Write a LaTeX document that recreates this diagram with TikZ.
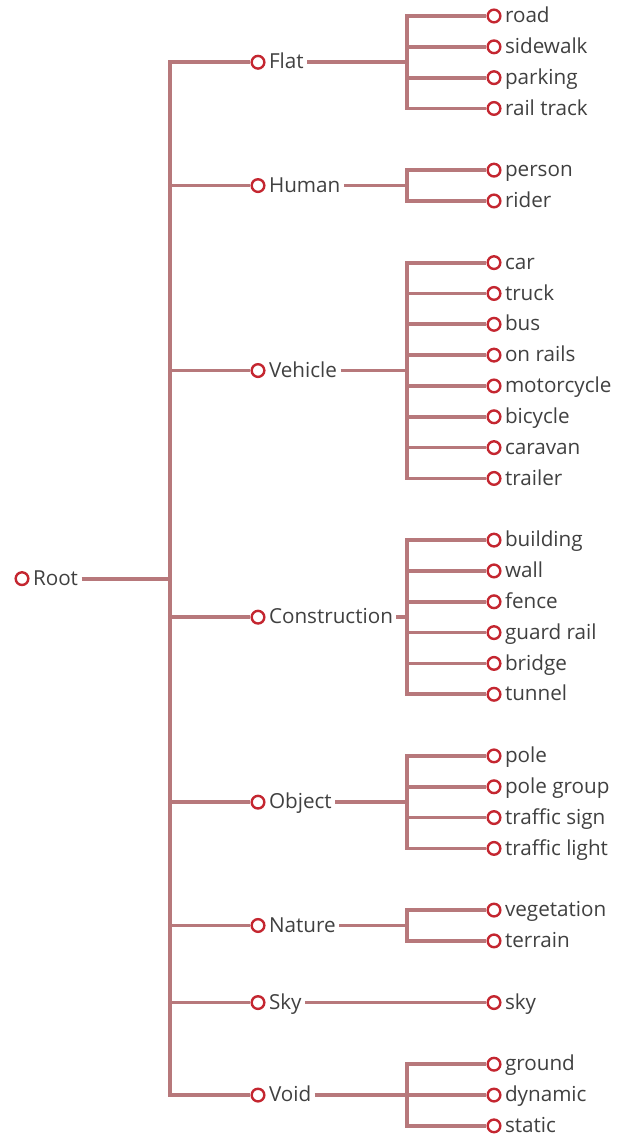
\documentclass[tikz,border=0pt]{standalone}
\usepackage{fontspec}
\setmainfont{Open Sans}
\definecolor{linkrose}{RGB}{183,120,123}
\definecolor{ringred}{RGB}{196,38,48}
\definecolor{textgray}{RGB}{64,64,64}
\tikzset{
  dot/.style={circle, draw=ringred, fill=white, line width=1.8pt, minimum size=9.5pt, inner sep=0pt},
  lbl/.style={anchor=west, inner sep=2.4pt, text height=12pt, text depth=2pt, text=textgray, font=\fontsize{15.5}{18}\selectfont},
  link/.style={draw=linkrose, line width=2.8pt},
  spine/.style={link, line cap=rect}
}
\begin{document}
\begin{tikzpicture}[x=0.75pt, y=-0.75pt]
  \useasboundingbox (0,0) rectangle (631,1138);
  \coordinate (trunk) at (170,0);
  \coordinate (split) at (407,0);
  \node[dot] (root) at (22,{16+18.25*30.83}) {};
  \node[lbl] (root-t) at (root.east) {Root};
  \draw[link] (root-t.east) -- (trunk |- root);
  \foreach \cat/\lab/\s/\nk/\kids in {flat/Flat/0/4/{road,sidewalk,parking,rail track}, human/Human/5/2/{person,rider}, vehicle/Vehicle/8/8/{car,truck,bus,on rails,motorcycle,bicycle,caravan,trailer}, construction/Construction/17/6/{building,wall,fence,guard rail,bridge,tunnel}, object/Object/24/4/{pole,pole group,traffic sign,traffic light}, nature/Nature/29/2/{vegetation,terrain}, sky/Sky/32/1/{sky}, void/Void/34/3/{ground,dynamic,static}} {
    \node[dot] (\cat) at (258,{16+(\s+(\nk-1)/2)*30.83}) {};
    \node[lbl] (\cat-t) at (\cat.east) {\lab};
    \draw[link] (trunk |- \cat) -- (\cat.west);
    \draw[link] (\cat-t.east) -- (split |- \cat);
    \foreach \k [count=\i] in \kids {
      \node[dot] (\cat-\i) at (494,{16+(\s+\i-1)*30.83}) {};
      \node[lbl] (\cat-\i-t) at (\cat-\i.east) {\k};
      \draw[link] (split |- \cat-\i) -- (\cat-\i.west);
    }
    \draw[spine] (split |- \cat-1) -- (split |- \cat-\nk);
  }
  \draw[spine] (trunk |- flat) -- (trunk |- void);
\end{tikzpicture}
\end{document}
